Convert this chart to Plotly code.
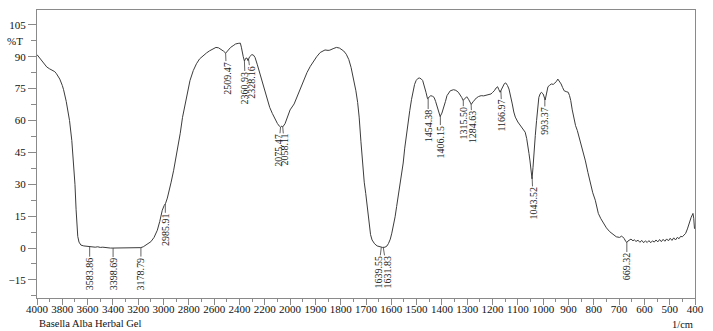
import numpy as np
import plotly.graph_objects as go

# FTIR spectrum, wavenumber (1/cm) vs transmittance (%T)
wavenumber = [
    4000, 3975, 3950, 3923, 3900, 3884, 3860, 3846, 3820, 3800, 3790, 3769, 3755, 3743, 3725,
    3710, 3700, 3691, 3685, 3678, 3668, 3653, 3630, 3601, 3580, 3560, 3540, 3520, 3500, 3480,
    3460, 3440, 3420, 3400, 3380, 3350, 3300, 3250, 3204, 3180, 3160, 3151, 3130, 3100, 3075,
    3049, 3030, 3010, 2995, 2984, 2970, 2958, 2940, 2920, 2894, 2868, 2850, 2830, 2810, 2791,
    2765, 2740, 2715, 2688, 2660, 2636, 2610, 2586, 2565, 2547, 2525, 2509, 2490, 2470, 2450,
    2431, 2410, 2393, 2385, 2380, 2370, 2361, 2350, 2341, 2333, 2320, 2302, 2290, 2277, 2260,
    2238, 2220, 2200, 2180, 2161, 2140, 2123, 2100, 2084, 2075, 2066, 2058, 2040, 2019, 2000,
    1984, 1970, 1958, 1945, 1933, 1920, 1907, 1895, 1881, 1870, 1862, 1850, 1843, 1830, 1817,
    1805, 1797, 1788, 1778, 1768, 1759, 1750, 1740, 1733, 1727, 1720, 1714, 1707, 1701, 1694,
    1688, 1682, 1676, 1666, 1656, 1643, 1635, 1625, 1617, 1611, 1604, 1598, 1591, 1585, 1579,
    1573, 1566, 1560, 1553, 1547, 1540, 1533, 1527, 1520, 1514, 1508, 1502, 1495, 1489, 1482,
    1476, 1470, 1463, 1457, 1450, 1444, 1437, 1431, 1425, 1418, 1412, 1407, 1400, 1392, 1386,
    1380, 1373, 1367, 1354, 1345, 1335, 1328, 1322, 1316, 1309, 1302, 1295, 1290, 1284, 1277,
    1264, 1255, 1245, 1235, 1225, 1215, 1206, 1200, 1193, 1186, 1180, 1175, 1170, 1164, 1159,
    1153, 1148, 1141, 1135, 1128, 1122, 1116, 1110, 1100, 1090, 1080, 1071, 1065, 1061, 1056,
    1052, 1048, 1044, 1040, 1036, 1031, 1026, 1021, 1017, 1012, 1007, 1000, 996, 992, 987,
    981, 975, 968, 960, 955, 948, 942, 936, 929, 923, 917, 909, 901, 896, 891,
    885, 878, 872, 865, 856, 846, 840, 833, 823, 814, 804, 794, 788, 782, 772,
    762, 750, 737, 724, 711, 698, 690, 686, 680, 673, 669, 665, 660, 653, 645,
    640, 633, 625, 618, 610, 603, 596, 589, 582, 575, 568, 561, 554, 547, 540,
    533, 526, 519, 512, 505, 498, 491, 484, 477, 470, 463, 457, 450, 444, 437,
    430, 425, 421, 415, 408, 405, 402, 400,
]
transmittance = [
    91.0, 89.0, 87.0, 85.2, 84.3, 83.8, 83.0, 82.0, 79.5, 76.5, 74.5, 69.0, 65.0, 60.0, 50.6,
    40.5, 30.0, 18.0, 11.0, 5.5, 2.8, 1.4, 1.0, 0.8, 0.6, 0.8, 0.4, 0.6, 0.3, 0.4,
    0.2, 0.1, 0.0, 0.0, 0.0, 0.0, 0.0, 0.0, 0.1, 0.2, 0.6, 1.0, 1.8, 3.0, 5.0,
    8.4, 12.5, 17.8, 20.0, 21.0, 23.5, 26.0, 31.0, 36.6, 44.5, 54.0, 61.5, 68.0, 74.0, 78.8,
    83.5, 86.7, 89.0, 90.5, 91.8, 92.8, 93.8, 94.4, 94.2, 93.6, 92.6, 91.7, 93.2, 94.4, 95.2,
    96.0, 96.3, 96.4, 94.5, 92.5, 90.0, 88.0, 89.3, 89.4, 88.2, 90.0, 91.0, 90.8, 89.7, 86.5,
    81.9, 77.5, 73.3, 69.5, 66.2, 63.3, 61.0, 58.6, 57.3, 56.8, 57.4, 57.0, 58.5, 61.6, 65.0,
    67.8, 72.0, 75.6, 79.5, 82.6, 85.5, 88.0, 90.0, 92.0, 92.9, 93.2, 93.0, 93.1, 93.8, 94.4,
    94.1, 93.6, 92.7, 91.2, 88.7, 85.0, 80.0, 74.0, 68.5, 61.6, 50.0, 39.0, 31.0, 25.6, 17.5,
    10.0, 6.3, 3.8, 2.0, 1.0, 0.4, 0.3, 0.4, 1.0, 2.2, 4.2, 7.0, 10.8, 14.7, 19.5,
    24.0, 29.5, 35.0, 40.0, 47.0, 53.8, 59.5, 64.7, 70.0, 74.0, 77.0, 78.8, 79.8, 80.0, 79.6,
    78.8, 76.5, 73.3, 70.3, 71.0, 71.7, 71.4, 70.9, 69.0, 66.2, 63.5, 61.9, 63.5, 66.2, 69.0,
    71.7, 73.3, 74.0, 74.5, 74.2, 73.3, 72.2, 70.9, 69.5, 70.5, 71.2, 70.0, 68.5, 67.6, 68.8,
    70.6, 71.3, 71.7, 71.6, 71.8, 72.0, 72.5, 73.2, 74.0, 75.3, 75.9, 74.5, 73.3, 74.8, 76.4,
    77.4, 77.7, 76.5, 74.8, 71.5, 67.8, 64.0, 61.6, 59.3, 57.7, 56.0, 54.5, 51.5, 49.0, 44.5,
    41.0, 36.5, 32.6, 38.0, 46.0, 53.0, 60.0, 66.0, 70.9, 72.5, 73.3, 72.5, 71.0, 69.7, 72.5,
    75.9, 76.5, 77.2, 77.0, 77.5, 78.3, 79.5, 78.5, 77.2, 75.5, 74.0, 73.6, 73.3, 71.8, 69.4,
    65.0, 60.0, 57.6, 55.3, 51.5, 47.5, 44.5, 41.0, 35.5, 30.3, 26.0, 22.5, 19.5, 16.3, 13.8,
    11.6, 9.5, 7.7, 6.3, 5.3, 5.0, 5.6, 5.3, 4.5, 3.0, 2.6, 3.3, 3.75, 4.2, 3.4,
    3.9, 3.1, 3.7, 2.7, 3.6, 2.5, 3.4, 2.6, 3.5, 2.5, 3.4, 2.8, 3.8, 2.9, 4.0,
    3.0, 4.1, 3.2, 4.3, 3.4, 4.6, 3.6, 4.8, 3.8, 5.0, 4.4, 5.5, 5.3, 6.2, 6.9,
    9.0, 11.0, 13.0, 14.5, 16.3, 14.0, 9.2, 9.0,
]

peak_wavenumbers = [3583.86, 3398.69, 3178.79, 2985.91, 2509.47, 2360.93, 2328.16,
                    2075.47, 2058.11, 1639.55, 1631.83, 1454.38, 1406.15, 1315.50,
                    1284.63, 1166.97, 1043.52, 993.37, 669.32]

x_tick_labels = [4000, 3800, 3600, 3400, 3200, 3000, 2800, 2600, 2400, 2200, 2000,
                 1900, 1800, 1700, 1600, 1500, 1400, 1300, 1200, 1100, 1000,
                 900, 800, 700, 600, 500, 400]
y_tick_values = [-15, 0, 15, 30, 45, 60, 75, 90, 105]

sample_name = "Basella Alba Herbal Gel"
x_unit = "1/cm"
y_unit = "%T"


def to_axis(wn):
    """Two-scale wavenumber axis: 200 1/cm per division above 2000, 100 below."""
    wn = np.asarray(wn, dtype=float)
    return np.where(wn >= 2000, (4000 - wn) / 200.0, 10 + (2000 - wn) / 100.0)


# label leader offsets in pixels (text centre relative to the peak point)
label_offsets = [(0, 27), (0, 26), (0, 26), (0, 26), (1, 25), (1, 27), (3, 23),
                 (-2, 23), (2, 23), (-3, 25), (4, 25), (0, 28), (0, 26), (0, 23),
                 (1, 23), (1, 25), (1, 26), (0, 22), (0, 24)]

line_col = "#3c3c3c"
frame_col = "#8a8a8a"
serif = "Liberation Serif, Times New Roman, serif"

fig = go.Figure()
fig.add_trace(go.Scatter(
    x=to_axis(wavenumber), y=transmittance, mode="lines",
    line=dict(color=line_col, width=1), hoverinfo="skip", showlegend=False,
))

wn_asc = np.asarray(wavenumber, dtype=float)[::-1]
t_asc = np.asarray(transmittance, dtype=float)[::-1]
annotations = []
for wn, (dx, dy) in zip(peak_wavenumbers, label_offsets):
    annotations.append(dict(
        x=float(to_axis(wn)), y=float(np.interp(wn, wn_asc, t_asc)),
        xref="x", yref="y", text=f"{wn:.2f}", textangle=-90,
        showarrow=True, arrowhead=0, arrowwidth=0.8, arrowcolor=line_col,
        ax=dx, ay=dy, standoff=0, startstandoff=0, borderpad=0,
        font=dict(family=serif, size=10, color="#222"),
    ))

annotations.append(dict(x=0, y=97.5, xref="paper", yref="y", text=y_unit,
                        showarrow=False, xanchor="right", xshift=-12,
                        font=dict(family=serif, size=11, color="#111")))
annotations.append(dict(x=0, y=0, xref="paper", yref="paper", text=sample_name,
                        showarrow=False, xanchor="left", yanchor="top", yshift=-18,
                        font=dict(family=serif, size=10.5, color="#111")))
annotations.append(dict(x=1, y=0, xref="paper", yref="paper", text=x_unit,
                        showarrow=False, xanchor="right", yanchor="top", yshift=-19,
                        font=dict(family=serif, size=10.5, color="#111")))

fig.update_layout(
    width=713, height=331,
    margin=dict(l=30, r=9, t=9, b=33),
    paper_bgcolor="white", plot_bgcolor="white",
    annotations=annotations,
    xaxis=dict(
        range=[0, 26], tickmode="array",
        tickvals=list(to_axis(x_tick_labels)), ticktext=[str(v) for v in x_tick_labels],
        ticks="outside", ticklen=6, tickwidth=1, tickcolor=frame_col,
        ticklabelstandoff=-5,
        minor=dict(tickvals=[i + 0.5 for i in range(26)], ticks="outside",
                   ticklen=3, tickcolor=frame_col),
        showline=True, linecolor=frame_col, linewidth=1, mirror=True,
        showgrid=False, zeroline=False,
        tickfont=dict(family=serif, size=11, color="#111"),
    ),
    yaxis=dict(
        range=[-23.5, 112], tickmode="array", tickvals=y_tick_values,
        ticks="outside", ticklen=8, tickwidth=1, tickcolor=frame_col,
        minor=dict(tickvals=[v + 7.5 for v in y_tick_values[:-1]] + [-22.5],
                   ticks="outside", ticklen=5, tickcolor=frame_col),
        showline=True, linecolor=frame_col, linewidth=1, mirror=True,
        showgrid=False, zeroline=False,
        tickfont=dict(family=serif, size=11, color="#111"),
    ),
)

fig.write_html("out.html")
